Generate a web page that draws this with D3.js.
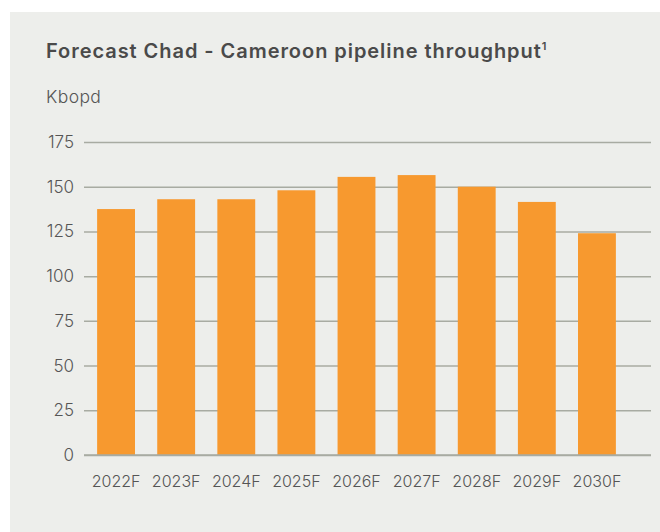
<!DOCTYPE html>
<html><head><meta charset="utf-8">
<script src="https://cdn.jsdelivr.net/npm/d3@7"></script>
<style>body{margin:0;background:#fff}svg{display:block}</style>
</head><body>
<svg id="c" width="660" height="532"></svg>
<script>
const categories = ["2022F","2023F","2024F","2025F","2026F","2027F","2028F","2029F","2030F"];
const values = [137.5, 143, 143, 148, 155.5, 156.5, 150, 141.5, 124];
const yTicks = [0,25,50,75,100,125,150,175];

const svg = d3.select("#c");
svg.append("rect").attr("x",10).attr("y",12).attr("width",650).attr("height",520).attr("fill","#edeeeb");

const x = d3.scaleBand().domain(categories).range([86,627]).paddingInner(0.37).paddingOuter(0.185);
const y = d3.scaleLinear().domain([0,175]).range([455,142]);

svg.append("text").attr("x",46).attr("y",58).attr("fill","#4a4a4a")
  .attr("font-family","Inter, Roboto, sans-serif").attr("font-weight",600).attr("font-size",20)
  .attr("letter-spacing",0.95)
  .text("Forecast Chad - Cameroon pipeline throughput")
  .append("tspan").attr("font-size",11).attr("dy",-8).attr("letter-spacing",0).text("1");
svg.append("text").attr("x",46).attr("y",103).attr("fill","#555")
  .attr("font-family","Inter, Roboto, sans-serif").attr("font-weight",300).attr("font-size",17.5)
  .attr("letter-spacing",0.4).text("Kbopd");

const yAxis = svg.append("g").attr("transform","translate(84,0)")
  .call(d3.axisLeft(y).tickValues(yTicks).tickSize(-567).tickPadding(10));
yAxis.select(".domain").remove();
yAxis.selectAll(".tick line").attr("stroke","#a8aba2").attr("stroke-width",1.5);
yAxis.selectAll(".tick text").attr("fill","#555").attr("font-family","Inter, Roboto, sans-serif")
  .attr("font-weight",300).attr("font-size",17);

svg.append("g").selectAll("rect").data(values).join("rect")
  .attr("x",(d,i)=>x(categories[i])).attr("width",x.bandwidth())
  .attr("y",d=>y(d)).attr("height",d=>y(0)-y(d)).attr("fill","#f7992f");

svg.append("line").attr("x1",84).attr("x2",651).attr("y1",y(0)).attr("y2",y(0))
  .attr("stroke","#a8aba2").attr("stroke-width",1.5);

const xAxis = svg.append("g").attr("transform",`translate(0,${y(0)})`)
  .call(d3.axisBottom(x).tickSize(0).tickPadding(21));
xAxis.select(".domain").remove();
xAxis.selectAll(".tick text").attr("fill","#555").attr("font-family","Inter, Roboto, sans-serif")
  .attr("font-weight",300).attr("font-size",16);
</script>
</body></html>
